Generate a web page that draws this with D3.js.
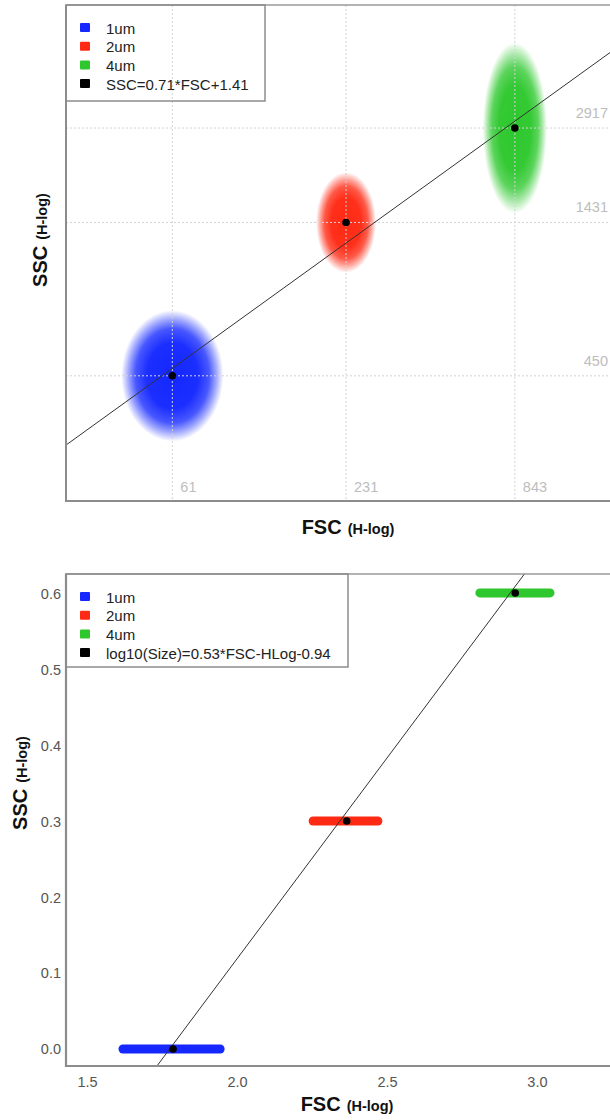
<!DOCTYPE html>
<html>
<head>
<meta charset="utf-8">
<script src="https://cdn.jsdelivr.net/npm/d3@7/dist/d3.min.js"></script>
<style>
  html, body { margin: 0; padding: 0; background: #fff; }
  svg { display: block; font-family: "Liberation Sans", Arial, sans-serif; }
</style>
</head>
<body>
<svg id="chart" width="610" height="1120"></svg>
<script>
// ---------------- data ----------------
const sizes = ["1um", "2um", "4um"];
const colors = ["#1428ff", "#ff2a14", "#2ec82e"];
// top panel: medians (linear units, log axes)
const fscMedian = [61, 231, 843];
const sscMedian = [450, 1431, 2917];
// half-spread of each cloud in decades
const fscSpreadDec = [0.17, 0.10, 0.107];
const sscSpreadDec = [0.215, 0.165, 0.28];
const topXTicks = [61, 231, 843];
const topYTicks = [450, 1431, 2917];
const topFit = { slope: 0.71, intercept: 1.41, label: "SSC=0.71*FSC+1.41" };

// bottom panel: log10 size vs FSC (H-log)
const logSize = [0.0, 0.301, 0.602];
const fscLogMedian = [1.785, 2.364, 2.926];
const fscLogMin = [1.618, 2.252, 2.808];
const fscLogMax = [1.942, 2.468, 3.042];
const botXTicks = [1.5, 2.0, 2.5, 3.0];
const botYTicks = [0.0, 0.1, 0.2, 0.3, 0.4, 0.5, 0.6];
const botFit = { slope: 0.53, intercept: -0.94, label: "log10(Size)=0.53*FSC-HLog-0.94" };

// ---------------- layout ----------------
const svg = d3.select("#chart");
const frameColor = "#8c8c8c";

function axisTitle(g, x, y, main, sub, rotate) {
  const t = g.append("text")
    .attr("text-anchor", "middle")
    .attr("font-weight", "bold")
    .attr("fill", "#111")
    .attr("transform", `translate(${x},${y})` + (rotate ? " rotate(-90)" : ""));
  t.append("tspan").attr("font-size", 20).text(main);
  t.append("tspan").attr("font-size", 14.5).attr("dx", 6).text(sub);
}

function legend(g, x0, y0, w, h, label) {
  g.append("rect").attr("x", x0).attr("y", y0).attr("width", w).attr("height", h)
    .attr("fill", "none").attr("stroke", frameColor).attr("stroke-width", 1.5);
  const items = sizes.map((s, i) => ({ label: s, color: colors[i] }))
    .concat([{ label: label, color: "#000" }]);
  const row = g.selectAll(".leg").data(items).enter().append("g")
    .attr("transform", (d, i) => `translate(${x0 + 14},${y0 + 23 + i * 18.7})`);
  row.append("rect").attr("x", 0).attr("y", -5).attr("width", 10).attr("height", 9)
    .attr("rx", 1).attr("fill", d => d.color);
  row.append("text").attr("x", 26).attr("y", 5.5).attr("font-size", 15)
    .attr("fill", "#222").text(d => d.label);
}

// ================= TOP PANEL =================
const T = { left: 66, top: 5, right: 640, bottom: 501 };
const xT = d3.scaleLog().domain([27, 2200]).range([T.left, T.right]);
const yT = d3.scaleLog().domain([175, 7380]).range([T.bottom, T.top]);

const defs = svg.append("defs");
defs.append("clipPath").attr("id", "clipTop").append("rect")
  .attr("x", T.left).attr("y", T.top).attr("width", T.right - T.left).attr("height", T.bottom - T.top);

sizes.forEach((s, i) => {
  const gr = defs.append("radialGradient").attr("id", "cloud" + i);
  [[0, 1], [0.5, 0.97], [0.72, 0.78], [0.87, 0.38], [1, 0]].forEach(([o, a]) => {
    gr.append("stop").attr("offset", o).attr("stop-color", colors[i]).attr("stop-opacity", a);
  });
});

const gTop = svg.append("g");
const topPlot = gTop.append("g").attr("clip-path", "url(#clipTop)");

// clouds
topPlot.selectAll(".cloud").data(sizes).enter().append("ellipse")
  .attr("cx", (d, i) => xT(fscMedian[i]))
  .attr("cy", (d, i) => yT(sscMedian[i]))
  .attr("rx", (d, i) => xT(fscMedian[i] * Math.pow(10, fscSpreadDec[i])) - xT(fscMedian[i]))
  .attr("ry", (d, i) => yT(sscMedian[i]) - yT(sscMedian[i] * Math.pow(10, sscSpreadDec[i])))
  .attr("fill", (d, i) => `url(#cloud${i})`);

// grid
topPlot.selectAll(".vg").data(topXTicks).enter().append("line")
  .attr("x1", d => xT(d)).attr("x2", d => xT(d)).attr("y1", T.top).attr("y2", T.bottom)
  .attr("stroke", "#d2d2d2").attr("stroke-dasharray", "2,2").attr("stroke-width", 1);
topPlot.selectAll(".hg").data(topYTicks).enter().append("line")
  .attr("y1", d => yT(d)).attr("y2", d => yT(d)).attr("x1", T.left).attr("x2", T.right)
  .attr("stroke", "#d2d2d2").attr("stroke-dasharray", "2,2").attr("stroke-width", 1);

// fit line
const topX0 = xT.domain()[0], topX1 = xT.domain()[1];
const fitT = v => Math.pow(10, topFit.slope * Math.log10(v) + topFit.intercept);
topPlot.append("line")
  .attr("x1", xT(topX0)).attr("y1", yT(fitT(topX0)))
  .attr("x2", xT(topX1)).attr("y2", yT(fitT(topX1)))
  .attr("stroke", "#333").attr("stroke-width", 1);

// centers
topPlot.selectAll(".ctr").data(sizes).enter().append("circle")
  .attr("cx", (d, i) => xT(fscMedian[i])).attr("cy", (d, i) => yT(sscMedian[i]))
  .attr("r", 3.8).attr("fill", "#000");

// inner tick labels
gTop.selectAll(".xl").data(topXTicks).enter().append("text")
  .attr("x", d => xT(d) + 8).attr("y", 492).attr("font-size", 14.5).attr("fill", "#bdbdbd")
  .text(d => d);
gTop.selectAll(".yl").data(topYTicks).enter().append("text")
  .attr("x", 608).attr("y", d => yT(d) - 10).attr("text-anchor", "end")
  .attr("font-size", 14.5).attr("fill", "#bdbdbd")
  .text(d => d);

// frame
gTop.append("rect").attr("x", T.left).attr("y", T.top).attr("width", T.right - T.left)
  .attr("height", T.bottom - T.top).attr("fill", "none").attr("stroke", frameColor).attr("stroke-width", 1.3);
gTop.append("path").attr("d", `M${T.left},${T.top}V${T.bottom}H${T.right}`)
  .attr("fill", "none").attr("stroke", frameColor).attr("stroke-width", 2);

legend(gTop, T.left, T.top, 199, 96, topFit.label);
axisTitle(gTop, 348, 534, "FSC", "(H-log)", false);
axisTitle(gTop, 47, 240, "SSC", "(H-log)", true);

// ================= BOTTOM PANEL =================
const B = { left: 66, top: 574, right: 640, bottom: 1066 };
const xB = d3.scaleLinear().domain([1.428, 3.342]).range([B.left, B.right]);
const yB = d3.scaleLinear().domain([-0.0224, 0.627]).range([B.bottom, B.top]);

defs.append("clipPath").attr("id", "clipBot").append("rect")
  .attr("x", B.left).attr("y", B.top).attr("width", B.right - B.left).attr("height", B.bottom - B.top);

const gBot = svg.append("g");
const botPlot = gBot.append("g").attr("clip-path", "url(#clipBot)");

// bands
botPlot.selectAll(".band").data(sizes).enter().append("line")
  .attr("x1", (d, i) => xB(fscLogMin[i])).attr("x2", (d, i) => xB(fscLogMax[i]))
  .attr("y1", (d, i) => yB(logSize[i])).attr("y2", (d, i) => yB(logSize[i]))
  .attr("stroke", (d, i) => colors[i]).attr("stroke-width", 9).attr("stroke-linecap", "round");

// fit line
const bx0 = xB.domain()[0], bx1 = xB.domain()[1];
const fitB = v => botFit.slope * v + botFit.intercept;
botPlot.append("line")
  .attr("x1", xB(bx0)).attr("y1", yB(fitB(bx0)))
  .attr("x2", xB(bx1)).attr("y2", yB(fitB(bx1)))
  .attr("stroke", "#333").attr("stroke-width", 1);

botPlot.selectAll(".ctr").data(sizes).enter().append("circle")
  .attr("cx", (d, i) => xB(fscLogMedian[i])).attr("cy", (d, i) => yB(logSize[i]))
  .attr("r", 3.8).attr("fill", "#000");

// ticks labels
gBot.selectAll(".xl").data(botXTicks).enter().append("text")
  .attr("x", d => xB(d)).attr("y", 1087).attr("text-anchor", "middle")
  .attr("font-size", 14.5).attr("fill", "#555").text(d => d3.format(".1f")(d));
gBot.selectAll(".yl").data(botYTicks).enter().append("text")
  .attr("x", 61).attr("y", d => yB(d) + 5).attr("text-anchor", "end")
  .attr("font-size", 14.5).attr("fill", "#555").text(d => d3.format(".1f")(d));

// frame
gBot.append("rect").attr("x", B.left).attr("y", B.top).attr("width", B.right - B.left)
  .attr("height", B.bottom - B.top).attr("fill", "none").attr("stroke", frameColor).attr("stroke-width", 1.3);
gBot.append("path").attr("d", `M${B.left},${B.top}V${B.bottom}H${B.right}`)
  .attr("fill", "none").attr("stroke", frameColor).attr("stroke-width", 2.2);

legend(gBot, B.left, B.top, 282, 93, botFit.label);
axisTitle(gBot, 347, 1111, "FSC", "(H-log)", false);
axisTitle(gBot, 27, 783, "SSC", "(H-log)", true);
</script>
</body>
</html>
